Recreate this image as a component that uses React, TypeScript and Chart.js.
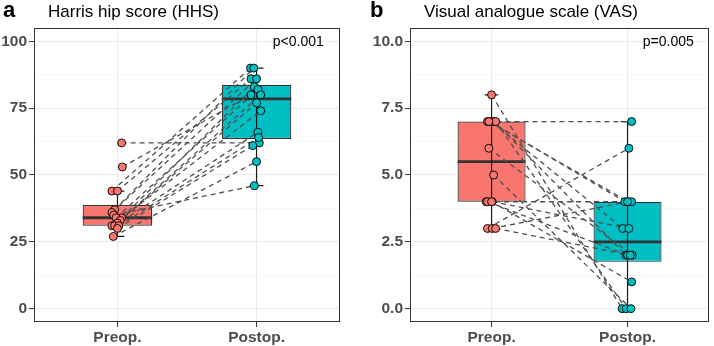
import React, { useEffect, useRef } from "react";
import { Chart, registerables } from "chart.js";
Chart.register(...registerables);
Chart.defaults.font.family = "'Liberation Sans', Arial, sans-serif";

const groups = ["Preop.", "Postop."];
const preColor = "#F8766D";
const postColor = "#00BFC4";

// Panel a: Harris hip score (paired, one entry per patient)
const hhsPre = [62, 53, 44, 44, 37, 36, 35, 34, 34, 33, 32, 31, 31, 31, 30, 27];
const hhsPost = [62, 80, 90, 86, 90, 86, 46, 83, 82, 80, 77, 74, 66, 64, 61, 55];
const hhsJitterPre = [0.03, 0.035, -0.04, 0.0, -0.02, -0.04, -0.027, 0.03, -0.01, 0.02, 0.0, -0.04, -0.02, 0.01, 0.0, -0.03];
const hhsJitterPost = [0.02, -0.04, -0.043, -0.04, -0.02, 0.0, -0.015, -0.015, 0.01, 0.03, 0.0, 0.03, 0.01, 0.015, -0.027, 0.0];
const hhsTicks = [0, 25, 50, 75, 100];

// Panel b: Visual analogue scale
const vasPre = [8, 7, 7, 7, 7, 7, 7, 6, 5, 4, 4, 4, 4, 3, 3, 3];
const vasPost = [0, 7, 4, 3, 2, 0, 4, 2, 0, 4, 3, 2, 1, 6, 4, 2];
const vasJitterPre = [0.0, -0.03, -0.01, 0.0, 0.02, 0.03, -0.02, -0.02, 0.015, -0.04, 0.005, -0.03, 0.0, -0.03, 0.005, 0.03];
const vasJitterPost = [-0.04, 0.03, -0.02, -0.035, -0.01, -0.01, 0.005, 0.035, 0.025, 0.03, 0.01, 0.0, 0.03, 0.01, 0.0, 0.02];
const vasTicks = [0, 2.5, 5, 7.5, 10];

function quantile(sorted: number[], p: number) {
  const pos = (sorted.length - 1) * p;
  const lo = Math.floor(pos);
  const hi = Math.ceil(pos);
  return sorted[lo] + (sorted[hi] - sorted[lo]) * (pos - lo);
}
function boxStats(vals: number[]) {
  const s = [...vals].sort((a, b) => a - b);
  const q1 = quantile(s, 0.25);
  const med = quantile(s, 0.5);
  const q3 = quantile(s, 0.75);
  const iqr = q3 - q1;
  const lo = Math.min(...s.filter((v) => v >= q1 - 1.5 * iqr));
  const hi = Math.max(...s.filter((v) => v <= q3 + 1.5 * iqr));
  return { q1, med, q3, lo, hi };
}

type PanelProps = {
  pre: number[];
  post: number[];
  jPre: number[];
  jPost: number[];
  ticks: number[];
  fmt: (v: number) => string;
  title: string;
  tag: string;
  tagX: number;
  pText: string;
  axisWidth: number;
  padRight: number;
};

function Panel(props: PanelProps) {
  const ref = useRef<HTMLCanvasElement | null>(null);
  useEffect(() => {
    const { pre, post, jPre, jPost, ticks, fmt, title, tag, tagX, pText, axisWidth, padRight } = props;
    const stats = [boxStats(pre), boxStats(post)];
    const first = ticks[0];
    const last = ticks[ticks.length - 1];
    const range = last - first;
    const minors: number[] = [];
    for (let i = 0; i < ticks.length - 1; i++) minors.push((ticks[i] + ticks[i + 1]) / 2);
    const allTicks = [...ticks, ...minors].sort((a, b) => a - b);
    const isMajor = (v: number) => ticks.some((t) => Math.abs(t - v) < 1e-9);

    const lineSets = pre.map((v, i) => ({
      type: "line" as const,
      data: [
        { x: 1 + jPre[i], y: v },
        { x: 2 + jPost[i], y: post[i] },
      ],
      borderColor: "#4f4f4f",
      borderWidth: 1.3,
      borderDash: [5, 4],
      pointRadius: 0,
      fill: false,
    }));
    const boxIndex = 1 + lineSets.length;

    const decor = {
      id: "decor",
      afterDatasetDraw(chart: any, args: any) {
        if (args.index !== boxIndex) return;
        const ctx = chart.ctx;
        const xs = chart.scales.x;
        const ys = chart.scales.y;
        stats.forEach((s, gi) => {
          const xc = xs.getPixelForValue(gi + 1);
          const half = xs.getPixelForValue(gi + 1.25) - xs.getPixelForValue(gi + 1);
          const cap = xs.getPixelForValue(gi + 1.05) - xs.getPixelForValue(gi + 1);
          ctx.save();
          ctx.strokeStyle = "#333333";
          ctx.lineWidth = 2.8;
          ctx.beginPath();
          ctx.moveTo(xc - half, ys.getPixelForValue(s.med));
          ctx.lineTo(xc + half, ys.getPixelForValue(s.med));
          ctx.stroke();
          ctx.strokeStyle = "#1a1a1a";
          ctx.lineWidth = 1.2;
          ctx.beginPath();
          ctx.moveTo(xc, ys.getPixelForValue(s.lo));
          ctx.lineTo(xc, ys.getPixelForValue(s.hi));
          ctx.moveTo(xc - cap, ys.getPixelForValue(s.lo));
          ctx.lineTo(xc + cap, ys.getPixelForValue(s.lo));
          ctx.moveTo(xc - cap, ys.getPixelForValue(s.hi));
          ctx.lineTo(xc + cap, ys.getPixelForValue(s.hi));
          ctx.stroke();
          ctx.restore();
        });
      },
      afterDraw(chart: any) {
        const ctx = chart.ctx;
        const a = chart.chartArea;
        const xs = chart.scales.x;
        const ys = chart.scales.y;
        ctx.save();
        ctx.strokeStyle = "#333333";
        ctx.lineWidth = 1;
        ctx.strokeRect(Math.round(a.left) + 0.5, Math.round(a.top) + 0.5, Math.round(a.right - a.left) - 1, Math.round(a.bottom - a.top) - 1);
        ctx.fillStyle = "#000";
        ctx.textBaseline = "alphabetic";
        ctx.textAlign = "left";
        ctx.font = "bold 22px 'Liberation Sans', Arial, sans-serif";
        ctx.fillText(tag, tagX, 17);
        ctx.font = "17px 'Liberation Sans', Arial, sans-serif";
        ctx.fillText(title, a.left + 14, 17);
        ctx.font = "14px 'Liberation Sans', Arial, sans-serif";
        ctx.textAlign = "center";
        ctx.textBaseline = "middle";
        ctx.fillText(pText, xs.getPixelForValue(2.3), ys.getPixelForValue(last) + 1);
        ctx.restore();
      },
    };

    const chart = new Chart(ref.current as HTMLCanvasElement, {
      type: "scatter",
      data: {
        datasets: [
          {
            type: "scatter",
            data: [
              ...pre.map((v, i) => ({ x: 1 + jPre[i], y: v })),
              ...post.map((v, i) => ({ x: 2 + jPost[i], y: v })),
            ],
            backgroundColor: [...pre.map(() => preColor), ...post.map(() => postColor)],
            borderColor: "#000000",
            borderWidth: 0.9,
            pointRadius: 4,
          },
          ...lineSets,
          {
            type: "bar",
            data: stats.map((s, gi) => ({ x: gi + 1, y: [s.q1, s.q3] })),
            backgroundColor: [preColor, postColor],
            borderColor: "#333333",
            borderWidth: 1.2,
            borderSkipped: false,
            categoryPercentage: 1,
            barPercentage: 0.5,
          },
        ] as any,
      },
      options: {
        animation: false,
        responsive: false,
        devicePixelRatio: 1,
        events: [],
        layout: { padding: { top: 28, right: padRight, left: 0, bottom: 0 } },
        plugins: { legend: { display: false }, tooltip: { enabled: false } },
        scales: {
          x: {
            type: "linear",
            min: 0.4,
            max: 2.6,
            offset: false,
            afterBuildTicks: (axis: any) => {
              axis.ticks = groups.map((_, i) => ({ value: i + 1 }));
            },
            afterFit: (scale: any) => {
              scale.height = 24;
            },
            ticks: {
              autoSkip: false,
              maxRotation: 0,
              padding: 1,
              color: "#4d4d4d",
              font: { size: 15.5, weight: "bold" },
              callback: (v: any) => groups[Math.round(Number(v)) - 1],
            },
            grid: {
              offset: false,
              color: "#ebebeb",
              lineWidth: 1.1,
              tickColor: "#333333",
              tickLength: 5,
              tickWidth: 1,
            },
            border: { display: false },
          },
          y: {
            type: "linear",
            min: first - 0.05 * range,
            max: last + 0.05 * range,
            afterBuildTicks: (axis: any) => {
              axis.ticks = allTicks.map((v) => ({ value: v }));
            },
            afterFit: (scale: any) => {
              scale.width = axisWidth;
            },
            ticks: {
              autoSkip: false,
              padding: 2,
              color: "#4d4d4d",
              font: { size: 15.5, weight: "bold" },
              callback: (v: any) => (isMajor(Number(v)) ? fmt(Number(v)) : ""),
            },
            grid: {
              color: (c: any) => (c.tick && isMajor(c.tick.value) ? "#ebebeb" : "#f4f4f4"),
              lineWidth: (c: any) => (c.tick && isMajor(c.tick.value) ? 1.1 : 0.6),
              tickColor: (c: any) => (c.tick && isMajor(c.tick.value) ? "#333333" : "rgba(0,0,0,0)"),
              tickLength: 5,
              tickWidth: 1,
            },
            border: { display: false },
          },
        },
      } as any,
      plugins: [decor],
    });
    return () => chart.destroy();
  }, []);
  return <canvas ref={ref} width={357} height={346} style={{ width: 357, height: 346, display: "block" }} />;
}

export default function App() {
  return (
    <div style={{ position: "absolute", left: 0, top: 0, width: 714, height: 346, background: "#fff", display: "flex" }}>
      <Panel
        pre={hhsPre}
        post={hhsPost}
        jPre={hhsJitterPre}
        jPost={hhsJitterPost}
        ticks={hhsTicks}
        fmt={(v) => String(v)}
        title="Harris hip score (HHS)"
        tag="a"
        tagX={3}
        pText="p<0.001"
        axisWidth={34}
        padRight={17}
      />
      <Panel
        pre={vasPre}
        post={vasPost}
        jPre={vasJitterPre}
        jPost={vasJitterPost}
        ticks={vasTicks}
        fmt={(v) => v.toFixed(1)}
        title="Visual analogue scale (VAS)"
        tag="b"
        tagX={13}
        pText="p=0.005"
        axisWidth={53}
        padRight={3}
      />
    </div>
  );
}
